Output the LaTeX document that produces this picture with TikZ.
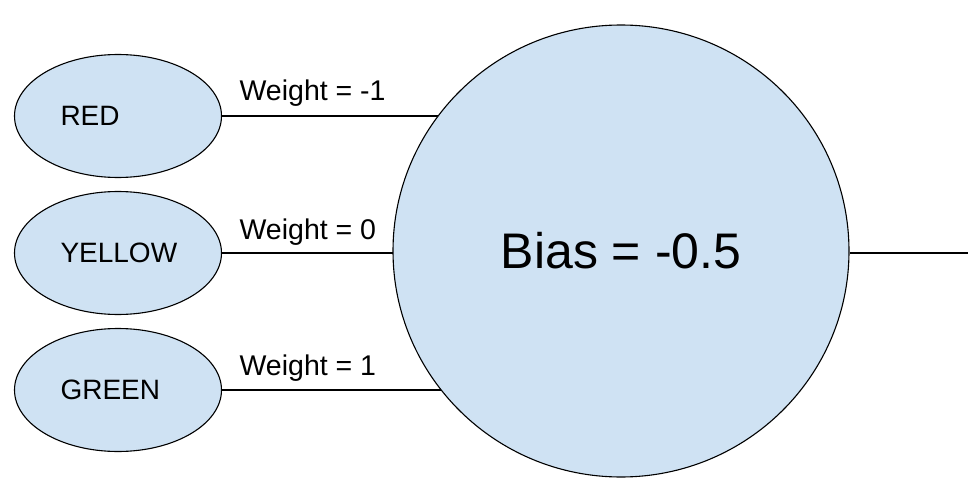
\documentclass[tikz,border=0pt]{standalone}
\usepackage{fontspec}
\setmainfont{Liberation Sans}
\usepackage{xcolor}
\usepackage{tikz}
\usetikzlibrary{shapes.geometric, positioning, calc, backgrounds}
\definecolor{nodeblue}{HTML}{CFE2F3}
\tikzset{
  inputnode/.style={
    ellipse, draw, line width=1.1pt, fill=nodeblue,
    minimum width=207pt, minimum height=123pt, inner sep=0pt,
    text width=115pt, align=left,
    font=\fontsize{28}{32}\selectfont
  },
  biasnode/.style={
    ellipse, draw, line width=1.1pt, fill=nodeblue,
    minimum width=456pt, minimum height=452pt, inner sep=0pt,
    font=\fontsize{50}{56}\selectfont
  },
  wire/.style={line width=1.1pt},
  weightlabel/.style={
    anchor=base west, xshift=17pt, inner sep=0pt,
    font=\fontsize{28.5}{32}\selectfont
  },
}
\begin{document}
\begin{tikzpicture}[x=1pt, y=-1pt]
  \useasboundingbox (0,0) rectangle (980,492);

  % === Neuron ===
  \node[biasnode] (bias) at (621, 251) {Bias = -0.5};

  % === Inputs ===
  \node[inputnode] (red) at (118, 116) {RED};
  \node[inputnode] (yellow) at (118, 253) {YELLOW};
  \node[inputnode] (green) at (118, 390) {GREEN};

  % === Connections (behind the neuron) ===
  \begin{scope}[on background layer]
    \draw[wire] (red.east) -- (red.east -| bias.center)
      node[pos=0, weightlabel, yshift=15pt] {Weight = -1};
    \draw[wire] (yellow.east) -- (yellow.east -| bias.center)
      node[pos=0, weightlabel, yshift=14pt] {Weight = 0};
    \draw[wire] (green.east) -- (green.east -| bias.center)
      node[pos=0, weightlabel, yshift=15pt] {Weight = 1};
  \end{scope}

  % === Output ===
  \coordinate (out) at (968, 253);
  \draw[wire] (bias.east |- out) -- (out);

\end{tikzpicture}
\end{document}
